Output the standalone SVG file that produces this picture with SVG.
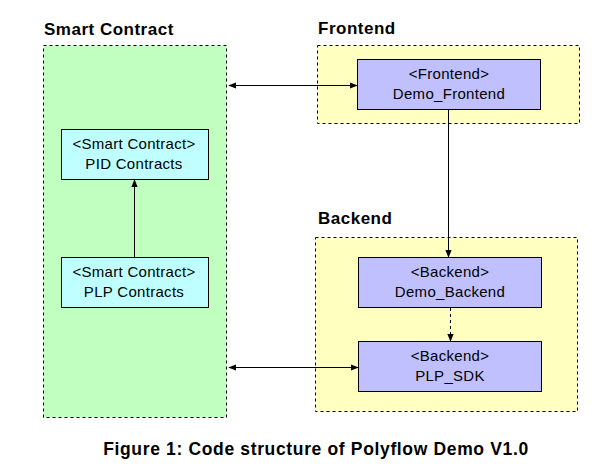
<svg xmlns="http://www.w3.org/2000/svg" width="616" height="468" viewBox="0 0 616 468">
<defs>
<marker id="ah" viewBox="0 0 10 10" refX="9" refY="5" markerWidth="8" markerHeight="8" markerUnits="userSpaceOnUse" orient="auto-start-reverse"><path d="M0,1 L10,5 L0,9 z" fill="#000"/></marker>
<style>
.cont{stroke:#000;stroke-width:1;stroke-dasharray:3,3}
.node{stroke:#000;stroke-width:1}
.t{font-family:"Liberation Sans",Arial,sans-serif;font-size:15px;letter-spacing:0.3px;fill:#000;text-anchor:middle}
.h{font-family:"Liberation Sans",Arial,sans-serif;font-size:17px;letter-spacing:0.5px;font-weight:bold;fill:#000}
.cap{font-family:"Liberation Sans",Arial,sans-serif;font-size:17.5px;letter-spacing:0.65px;font-weight:bold;fill:#000;text-anchor:middle}
.c{stroke:#000;stroke-width:1;fill:none}
</style>
</defs>
<rect width="616" height="468" fill="#fff"/>
<g id="smart-contract">
<rect class="cont" x="43.5" y="45.5" width="183" height="372" fill="#c0ffc0"/>
<text class="h" x="44" y="35">Smart Contract</text>
</g>
<g id="frontend">
<rect class="cont" x="317.5" y="45.5" width="262" height="78" fill="#ffffc0"/>
<text class="h" x="318" y="34">Frontend</text>
</g>
<g id="backend">
<rect class="cont" x="315.5" y="237.5" width="262" height="174" fill="#ffffc0"/>
<text class="h" x="318" y="224">Backend</text>
</g>
<g id="pid">
<rect class="node" x="61.5" y="129.5" width="147" height="50" fill="#c0ffff"/>
<text class="t" x="134" y="149">&lt;Smart Contract&gt;</text>
<text class="t" x="134" y="169">PID Contracts</text>
</g>
<g id="plp">
<rect class="node" x="61.5" y="257.5" width="147" height="50" fill="#c0ffff"/>
<text class="t" x="134" y="277">&lt;Smart Contract&gt;</text>
<text class="t" x="134" y="297">PLP Contracts</text>
</g>
<g id="demo-frontend">
<rect class="node" x="357.5" y="59.5" width="183" height="50" fill="#c0c0ff"/>
<text class="t" x="449" y="79">&lt;Frontend&gt;</text>
<text class="t" x="449" y="99">Demo_Frontend</text>
</g>
<g id="demo-backend">
<rect class="node" x="358.5" y="257.5" width="183" height="50" fill="#c0c0ff"/>
<text class="t" x="450" y="277">&lt;Backend&gt;</text>
<text class="t" x="450" y="297">Demo_Backend</text>
</g>
<g id="plp-sdk">
<rect class="node" x="358.5" y="341.5" width="183" height="50" fill="#c0c0ff"/>
<text class="t" x="450" y="361">&lt;Backend&gt;</text>
<text class="t" x="450" y="381">PLP_SDK</text>
</g>
<g id="connectors">
<line class="c" x1="229" y1="85.5" x2="357" y2="85.5" marker-start="url(#ah)" marker-end="url(#ah)"/>
<line class="c" x1="134.5" y1="257" x2="134.5" y2="180" marker-end="url(#ah)"/>
<line class="c" x1="448.5" y1="110" x2="448.5" y2="257" stroke="#555" marker-end="url(#ah)"/>
<line class="c" x1="450.5" y1="308" x2="450.5" y2="341" stroke-dasharray="3,3" marker-end="url(#ah)"/>
<line class="c" x1="229" y1="367.5" x2="358" y2="367.5" marker-start="url(#ah)" marker-end="url(#ah)"/>
</g>
<text class="cap" x="316" y="455">Figure 1: Code structure of Polyflow Demo V1.0</text>
</svg>
